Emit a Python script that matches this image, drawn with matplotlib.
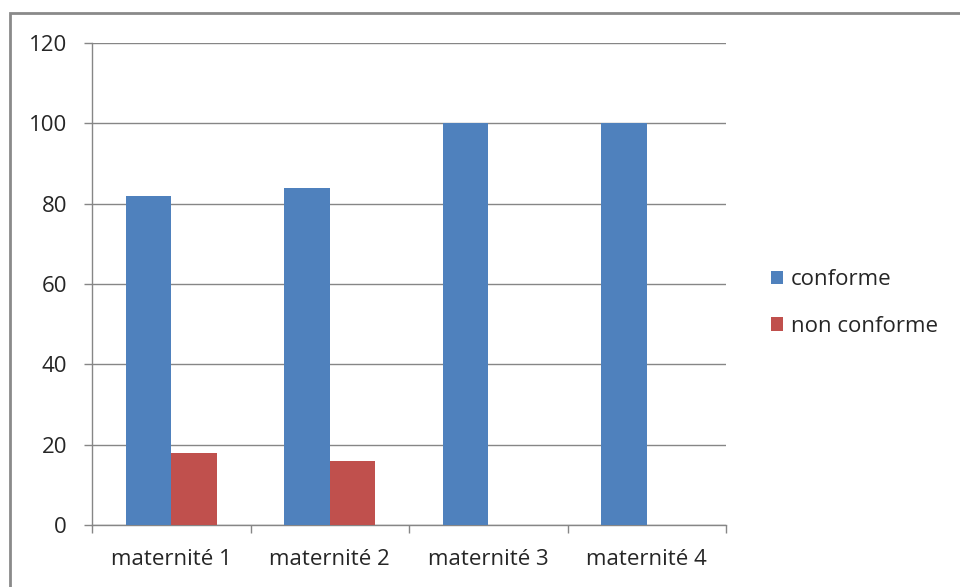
import matplotlib
matplotlib.use("Agg")
import matplotlib.pyplot as plt
import numpy as np
from matplotlib.patches import Rectangle, Patch

categories = ["maternité 1", "maternité 2", "maternité 3", "maternité 4"]
conforme = [82, 84, 100, 100]
non_conforme = [18, 16, 0, 0]
series_names = ["conforme", "non conforme"]
colors = ["#4F81BD", "#C0504D"]

plt.rcParams['font.family'] = ['Open Sans', 'DejaVu Sans']
fs = 16
tc = "#262626"

fig = plt.figure(figsize=(9.6, 5.87), dpi=100)
ax = fig.add_axes([92/960, 62/587, 634/960, 482/587])

x = np.arange(len(categories))
w = 1/3.5
ax.bar(x - w/2, conforme, width=w, color=colors[0], zorder=3)
ax.bar(x + w/2, non_conforme, width=w, color=colors[1], zorder=3)

ax.set_xlim(-0.5, len(categories) - 0.5)
ax.set_ylim(0, 120)
ax.set_yticks(range(0, 121, 20))
ax.set_xticks(x)
ax.set_xticklabels(categories)
ax.set_xticks(np.arange(-0.5, len(categories), 1), minor=True)

gray = "#868686"
ax.yaxis.grid(True, color=gray, linewidth=1, zorder=0)
for s in ["top", "right"]:
    ax.spines[s].set_visible(False)
for s in ["left", "bottom"]:
    ax.spines[s].set_color(gray)
    ax.spines[s].set_linewidth(1)

ax.tick_params(axis='y', length=6, color=gray, width=1, pad=12, labelsize=fs, labelcolor=tc)
ax.tick_params(axis='x', which='major', length=0, pad=17, labelsize=fs, labelcolor=tc)
ax.tick_params(axis='x', which='minor', length=6, color=gray, width=1)

handles = [Patch(facecolor=c) for c in colors]
fig.legend(handles, series_names, loc='center left',
           bbox_to_anchor=(751/960, 1 - 303/587), frameon=False,
           handlelength=0.55, handleheight=0.55, handletextpad=0.35,
           labelspacing=1.15, fontsize=fs, labelcolor=tc)

border = Rectangle((10/960, -0.05), 1.1, 1 - 13/587 + 0.05, transform=fig.transFigure,
                   fill=False, edgecolor="#8a8a8a", linewidth=2, clip_on=False)
fig.patches.append(border)

fig.savefig("out.png", dpi=100)
